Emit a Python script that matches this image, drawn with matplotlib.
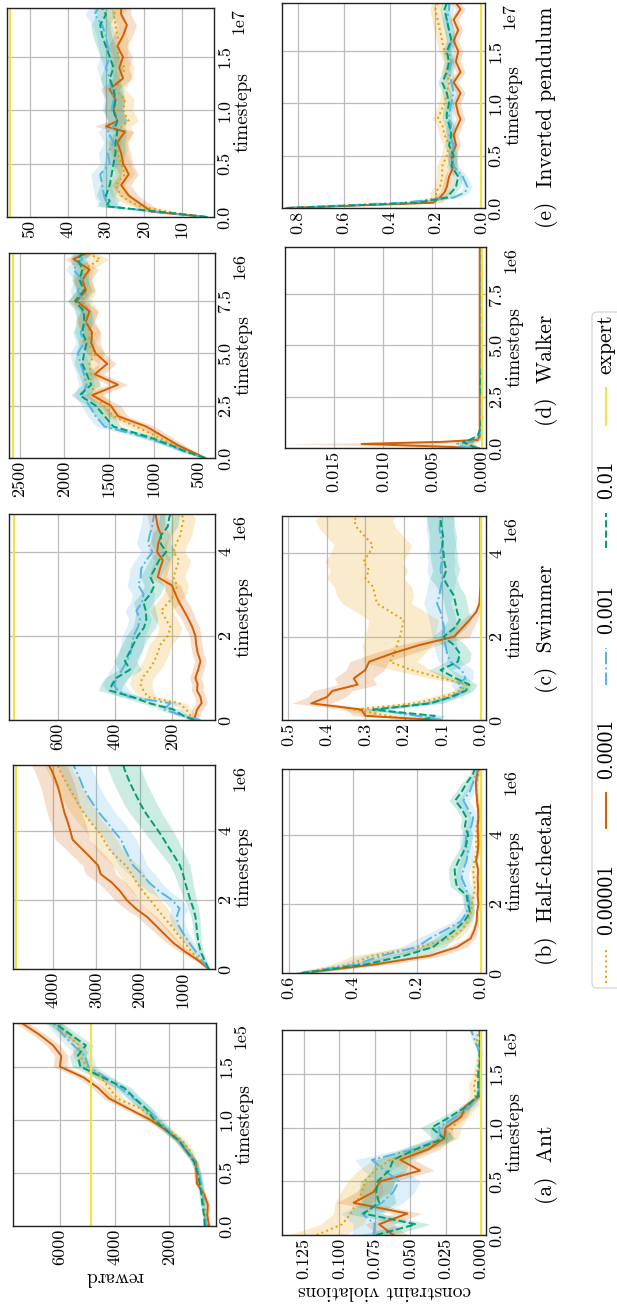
import numpy as np
import matplotlib.pyplot as plt
from matplotlib.lines import Line2D
from matplotlib.patches import FancyBboxPatch
from matplotlib.transforms import offset_copy

plt.rcParams['font.family'] = 'cmr10'
plt.rcParams['mathtext.fontset'] = 'cm'
plt.rcParams['axes.formatter.use_mathtext'] = True
plt.rcParams['font.size'] = 13

# legend / series
series_labels = ['0.00001', '0.0001', '0.001', '0.01']
series_colors = ['#E69F00', '#D55E00', '#56B4E9', '#009E73']
series_styles = [':', '-', '-.', '--']
expert_color = '#F0E442'

# ===== Ant (timesteps in 1e5) =====
ant_t = [0, 0.1, 0.2, 0.3, 0.4, 0.5, 0.6, 0.7, 0.8, 0.9, 1.0, 1.1, 1.2, 1.3, 1.4, 1.5, 1.6, 1.7, 1.8, 1.91]
ant_rw_e5 = [600, 650, 700, 780, 850, 950, 1100, 1200, 1500, 2000, 2500, 3000, 3900, 4200, 4500, 5000, 5270, 5300, 5760, 6150]
ant_rw_e4 = [536, 600, 580, 720, 980, 1000, 1010, 1350, 1650, 2100, 2700, 3450, 4200, 4600, 5150, 6000, 5950, 6250, 6750, 7400]
ant_rw_e3 = [634, 700, 730, 760, 830, 900, 1060, 1300, 1650, 2050, 2400, 2800, 3300, 3800, 4350, 4950, 5090, 5500, 5880, 6250]
ant_rw_e2 = [695, 720, 780, 820, 880, 950, 1080, 1350, 1620, 2100, 2550, 2830, 3250, 3650, 4450, 5250, 5350, 5050, 5600, 6200]
ant_rw_e5_sd = [60, 60, 70, 80, 90, 100, 110, 120, 150, 180, 200, 220, 250, 250, 250, 250, 250, 250, 250, 250]
ant_rw_e4_sd = [50, 60, 70, 80, 90, 100, 100, 120, 140, 160, 180, 200, 220, 220, 230, 250, 250, 250, 250, 250]
ant_rw_e3_sd = [60, 70, 80, 90, 100, 100, 110, 130, 150, 170, 200, 220, 240, 260, 280, 280, 280, 280, 280, 280]
ant_rw_e2_sd = [60, 70, 80, 90, 100, 100, 110, 130, 150, 170, 200, 230, 250, 270, 300, 300, 300, 280, 280, 280]
ant_cv_e5 = [0.116, 0.098, 0.092, 0.088, 0.084, 0.082, 0.075, 0.064, 0.043, 0.024, 0.020, 0.015, 0.007, 0.004, 0.005, 0.003, 0.002, 0.001, 0.003, 0.002]
ant_cv_e4 = [0.062, 0.072, 0.052, 0.090, 0.076, 0.071, 0.043, 0.057, 0.037, 0.026, 0.025, 0.014, 0.011, 0.0005, 0.0005, 0.0005, 0.0005, 0.0005, 0.0005, 0.0005]
ant_cv_e3 = [0.076, 0.075, 0.084, 0.070, 0.062, 0.058, 0.068, 0.077, 0.047, 0.028, 0.030, 0.018, 0.008, 0.002, 0.001, 0.001, 0.001, 0.001, 0.004, 0.007]
ant_cv_e2 = [0.074, 0.046, 0.083, 0.072, 0.074, 0.073, 0.065, 0.062, 0.046, 0.026, 0.035, 0.022, 0.010, 0.002, 0.002, 0.002, 0.001, 0.001, 0.001, 0.001]
ant_cv_e5_sd = [0.02, 0.015, 0.012, 0.015, 0.015, 0.012, 0.012, 0.012, 0.01, 0.008, 0.006, 0.006, 0.005, 0.004, 0.004, 0.003, 0.002, 0.002, 0.002, 0.002]
ant_cv_e4_sd = [0.01, 0.01, 0.01, 0.012, 0.012, 0.01, 0.01, 0.01, 0.008, 0.006, 0.005, 0.004, 0.004, 0.001, 0.001, 0.001, 0.001, 0.001, 0.001, 0.001]
ant_cv_e3_sd = [0.015, 0.015, 0.015, 0.015, 0.015, 0.015, 0.015, 0.012, 0.01, 0.008, 0.006, 0.005, 0.004, 0.002, 0.001, 0.001, 0.001, 0.001, 0.002, 0.002]
ant_cv_e2_sd = [0.012, 0.01, 0.012, 0.012, 0.012, 0.012, 0.012, 0.012, 0.01, 0.008, 0.008, 0.006, 0.004, 0.002, 0.001, 0.001, 0.001, 0.001, 0.001, 0.001]

# ===== Half-cheetah (timesteps in 1e6) =====
hc_t = [0, 0.25, 0.5, 0.75, 1.0, 1.25, 1.5, 1.75, 2.0, 2.25, 2.5, 2.75, 3.0, 3.25, 3.5, 3.75, 4.0, 4.25, 4.5, 4.75, 5.0, 5.25, 5.5, 5.75, 5.91]
hc_rw_e5 = [405, 620, 800, 960, 1120, 1270, 1440, 1600, 1760, 1920, 2070, 2180, 2320, 2540, 2720, 2830, 2960, 3130, 3280, 3400, 3510, 3630, 3740, 3840, 3900]
hc_rw_e4 = [405, 650, 950, 1216, 1420, 1620, 1820, 2090, 2300, 2450, 2640, 2900, 2960, 3150, 3350, 3550, 3600, 3660, 3730, 3780, 3830, 3880, 3950, 4030, 4100]
hc_rw_e3 = [405, 560, 700, 850, 980, 1100, 1150, 1080, 1250, 1550, 1780, 1950, 2150, 2250, 2350, 2430, 2600, 2750, 2920, 3060, 3190, 3300, 3380, 3470, 3530]
hc_rw_e2 = [405, 500, 590, 640, 670, 690, 710, 760, 830, 890, 950, 1000, 1070, 1190, 1320, 1440, 1570, 1710, 1850, 1970, 2070, 2170, 2260, 2340, 2380]
hc_rw_e5_sd = [30, 80, 120, 150, 180, 200, 220, 250, 250, 270, 280, 300, 300, 300, 300, 300, 300, 300, 300, 300, 300, 300, 300, 300, 300]
hc_rw_e4_sd = [30, 80, 120, 150, 180, 200, 220, 250, 280, 300, 320, 350, 350, 380, 380, 400, 400, 400, 400, 400, 400, 400, 400, 400, 400]
hc_rw_e3_sd = [30, 60, 90, 110, 130, 150, 170, 200, 220, 250, 280, 300, 320, 340, 350, 360, 370, 380, 380, 380, 380, 380, 380, 380, 380]
hc_rw_e2_sd = [30, 50, 60, 70, 80, 90, 100, 120, 140, 160, 180, 200, 230, 260, 290, 320, 340, 360, 370, 380, 380, 380, 380, 380, 380]
hc_cv_e5 = [0.56, 0.41, 0.34, 0.19, 0.097, 0.06, 0.04, 0.032, 0.029, 0.022, 0.019, 0.022, 0.024, 0.02, 0.013, 0.015, 0.014, 0.013, 0.008, 0.01, 0.012, 0.014, 0.013, 0.008, 0.005]
hc_cv_e4 = [0.56, 0.33, 0.16, 0.075, 0.032, 0.02, 0.013, 0.012, 0.008, 0.010, 0.009, 0.010, 0.009, 0.015, 0.010, 0.008, 0.009, 0.010, 0.008, 0.009, 0.012, 0.014, 0.016, 0.012, 0.009]
hc_cv_e3 = [0.56, 0.39, 0.31, 0.2, 0.16, 0.11, 0.062, 0.045, 0.036, 0.04, 0.048, 0.06, 0.055, 0.045, 0.04, 0.048, 0.045, 0.03, 0.024, 0.04, 0.055, 0.035, 0.025, 0.015, 0.012]
hc_cv_e2 = [0.56, 0.36, 0.24, 0.15, 0.115, 0.08, 0.052, 0.034, 0.04, 0.045, 0.075, 0.08, 0.082, 0.07, 0.055, 0.045, 0.04, 0.05, 0.045, 0.06, 0.08, 0.06, 0.045, 0.025, 0.02]
hc_cv_e5_sd = [0.03, 0.06, 0.06, 0.05, 0.03, 0.02, 0.015, 0.01, 0.01, 0.008, 0.008, 0.008, 0.008, 0.008, 0.006, 0.006, 0.006, 0.006, 0.005, 0.005, 0.005, 0.005, 0.005, 0.004, 0.004]
hc_cv_e4_sd = [0.03, 0.05, 0.04, 0.03, 0.015, 0.01, 0.006, 0.005, 0.004, 0.004, 0.004, 0.004, 0.004, 0.004, 0.004, 0.004, 0.004, 0.004, 0.004, 0.004, 0.004, 0.004, 0.004, 0.004, 0.004]
hc_cv_e3_sd = [0.03, 0.06, 0.06, 0.05, 0.04, 0.03, 0.025, 0.02, 0.015, 0.015, 0.02, 0.02, 0.02, 0.02, 0.02, 0.02, 0.02, 0.015, 0.015, 0.02, 0.02, 0.015, 0.012, 0.01, 0.008]
hc_cv_e2_sd = [0.03, 0.05, 0.05, 0.04, 0.03, 0.025, 0.02, 0.015, 0.015, 0.015, 0.02, 0.02, 0.02, 0.02, 0.018, 0.015, 0.015, 0.015, 0.015, 0.018, 0.02, 0.018, 0.015, 0.01, 0.01]

# ===== Swimmer (timesteps in 1e6) =====
sw_t = [0, 0.1, 0.25, 0.4, 0.55, 0.7, 0.85, 1.0, 1.2, 1.4, 1.6, 1.8, 2.0, 2.2, 2.4, 2.6, 2.8, 3.0, 3.2, 3.4, 3.6, 3.8, 4.0, 4.2, 4.4, 4.6, 4.8, 4.9]
sw_rw_e5 = [124, 135, 150, 175, 285, 300, 310, 305, 280, 262, 250, 240, 215, 205, 222, 238, 212, 190, 182, 195, 185, 175, 195, 185, 170, 165, 158, 170]
sw_rw_e4 = [124, 118, 112, 96, 100, 112, 110, 118, 108, 100, 110, 115, 118, 128, 142, 158, 175, 188, 200, 250, 242, 232, 252, 248, 238, 250, 255, 258]
sw_rw_e3 = [100, 160, 230, 205, 350, 390, 405, 392, 375, 358, 345, 340, 335, 320, 312, 325, 305, 300, 318, 310, 308, 290, 268, 285, 278, 270, 265, 262]
sw_rw_e2 = [124, 160, 195, 280, 340, 418, 410, 395, 347, 365, 350, 335, 320, 298, 290, 292, 300, 275, 262, 276, 260, 245, 220, 240, 238, 215, 210, 206]
sw_rw_e5_sd = [10, 15, 20, 25, 30, 35, 40, 40, 40, 40, 40, 40, 40, 40, 40, 40, 40, 40, 40, 40, 40, 40, 40, 40, 40, 40, 40, 40]
sw_rw_e4_sd = [10, 15, 20, 20, 20, 20, 20, 20, 20, 20, 20, 20, 20, 25, 25, 30, 30, 30, 30, 30, 30, 30, 30, 30, 30, 30, 30, 30]
sw_rw_e3_sd = [10, 20, 25, 30, 35, 40, 40, 40, 40, 40, 40, 40, 40, 40, 40, 40, 40, 40, 40, 40, 40, 40, 40, 40, 40, 40, 40, 40]
sw_rw_e2_sd = [10, 20, 25, 30, 35, 40, 40, 40, 40, 40, 40, 40, 40, 40, 40, 35, 35, 35, 35, 35, 35, 35, 35, 35, 35, 35, 35, 35]
sw_cv_e5 = [0.18, 0.24, 0.33, 0.17, 0.10, 0.055, 0.036, 0.10, 0.18, 0.236, 0.225, 0.218, 0.21, 0.205, 0.20, 0.235, 0.27, 0.275, 0.28, 0.30, 0.29, 0.305, 0.29, 0.28, 0.30, 0.32, 0.33, 0.318]
sw_cv_e4 = [0.11, 0.30, 0.31, 0.44, 0.40, 0.385, 0.32, 0.33, 0.30, 0.29, 0.23, 0.16, 0.07, 0.05, 0.03, 0.012, 0.004, 0.003, 0.002, 0.002, 0.002, 0.002, 0.002, 0.002, 0.002, 0.002, 0.002, 0.002]
sw_cv_e3 = [0.10, 0.166, 0.27, 0.14, 0.07, 0.045, 0.06, 0.04, 0.05, 0.08, 0.088, 0.092, 0.097, 0.095, 0.10, 0.105, 0.114, 0.108, 0.104, 0.10, 0.105, 0.102, 0.106, 0.10, 0.104, 0.108, 0.105, 0.106]
sw_cv_e2 = [0.15, 0.12, 0.28, 0.13, 0.08, 0.04, 0.03, 0.065, 0.105, 0.06, 0.055, 0.07, 0.097, 0.07, 0.055, 0.062, 0.066, 0.071, 0.085, 0.097, 0.09, 0.095, 0.097, 0.10, 0.098, 0.102, 0.105, 0.106]
sw_cv_e5_sd = [0.03, 0.04, 0.04, 0.04, 0.03, 0.02, 0.015, 0.03, 0.05, 0.07, 0.08, 0.09, 0.09, 0.09, 0.09, 0.09, 0.09, 0.1, 0.1, 0.1, 0.1, 0.1, 0.1, 0.1, 0.1, 0.1, 0.1, 0.1]
sw_cv_e4_sd = [0.02, 0.03, 0.04, 0.05, 0.05, 0.05, 0.05, 0.05, 0.05, 0.05, 0.05, 0.05, 0.04, 0.03, 0.02, 0.01, 0.003, 0.002, 0.002, 0.002, 0.002, 0.002, 0.002, 0.002, 0.002, 0.002, 0.002, 0.002]
sw_cv_e3_sd = [0.03, 0.03, 0.03, 0.03, 0.02, 0.02, 0.02, 0.02, 0.03, 0.03, 0.03, 0.03, 0.03, 0.035, 0.035, 0.035, 0.035, 0.035, 0.035, 0.035, 0.035, 0.035, 0.035, 0.035, 0.035, 0.035, 0.035, 0.035]
sw_cv_e2_sd = [0.03, 0.03, 0.03, 0.03, 0.02, 0.02, 0.02, 0.03, 0.03, 0.03, 0.03, 0.03, 0.03, 0.03, 0.03, 0.03, 0.03, 0.03, 0.03, 0.035, 0.035, 0.035, 0.035, 0.035, 0.035, 0.035, 0.035, 0.035]

# ===== Walker (timesteps in 1e6) =====
wk_t = [0, 0.1, 0.2, 0.3, 0.4, 0.6, 1.0, 1.5, 2.0, 2.5, 3.0, 3.5, 4.0, 4.5, 5.0, 5.5, 6.0, 6.5, 7.0, 7.5, 8.0, 8.5, 9.0, 9.5, 9.79]
wk_rw_e5 = [420, 480, 540, 600, 650, 760, 950, 1200, 1450, 1560, 1650, 1700, 1700, 1720, 1650, 1750, 1700, 1780, 1720, 1800, 1750, 1800, 1780, 1600, 1750]
wk_rw_e4 = [420, 470, 520, 570, 620, 720, 880, 1080, 1400, 1480, 1690, 1400, 1660, 1520, 1650, 1700, 1690, 1760, 1720, 1860, 1760, 1800, 1720, 1900, 1750]
wk_rw_e3 = [420, 500, 580, 650, 700, 820, 1100, 1550, 1650, 1720, 1800, 1750, 1780, 1820, 1850, 1780, 1820, 1750, 1800, 1800, 1850, 1800, 1900, 1800, 1850]
wk_rw_e2 = [420, 490, 560, 630, 690, 800, 1050, 1450, 1550, 1650, 1830, 1700, 1750, 1800, 1780, 1750, 1800, 1780, 1780, 1880, 1780, 1830, 1800, 1850, 1800]
wk_rw_e5_sd = [20, 30, 40, 50, 60, 70, 80, 90, 100, 100, 100, 100, 100, 100, 100, 100, 100, 100, 100, 100, 100, 100, 100, 100, 100]
wk_rw_e4_sd = [20, 30, 40, 50, 60, 70, 80, 100, 110, 110, 110, 110, 100, 100, 100, 100, 100, 100, 100, 100, 100, 100, 100, 100, 100]
wk_rw_e3_sd = [20, 30, 40, 50, 60, 70, 80, 90, 90, 90, 90, 90, 90, 90, 90, 90, 90, 90, 90, 90, 90, 90, 90, 90, 90]
wk_rw_e2_sd = [20, 30, 40, 50, 60, 70, 80, 90, 100, 100, 100, 100, 90, 90, 90, 90, 90, 90, 90, 90, 90, 90, 90, 90, 90]
wk_cv_e5 = [0.0005, 0.001, 0.0015, 0.0008, 0.0003, 0.0001, 0, 0, 0, 0, 0, 0, 0, 0, 0, 0, 0, 0, 0, 0, 0, 0, 0, 0, 0]
wk_cv_e4 = [0.0003, 0.006, 0.0122, 0.004, 0.0004, 0.0002, 0.0002, 0.0002, 0.0002, 0.0002, 0.0002, 0.0002, 0.0002, 0.0002, 0.0002, 0.0002, 0.0002, 0.0002, 0.0002, 0.0002, 0.0002, 0.0002, 0.0002, 0.0002, 0.0002]
wk_cv_e3 = [0.001, 0.0022, 0.0025, 0.001, 0.0005, 0.0002, 0, 0, 0, 0, 0, 0, 0, 0, 0, 0, 0, 0, 0, 0, 0, 0, 0, 0, 0]
wk_cv_e2 = [0.0005, 0.001, 0.0015, 0.0019, 0.0012, 0.0004, 0.0001, 0, 0, 0, 0.0002, 0.0001, 0, 0, 0, 0, 0, 0, 0, 0, 0, 0, 0, 0, 0]
wk_cv_e5_sd = [0.0003, 0.0006, 0.0008, 0.0005, 0.0002, 0.0001, 0, 0, 0, 0, 0, 0, 0, 0, 0, 0, 0, 0, 0, 0, 0, 0, 0, 0, 0]
wk_cv_e4_sd = [0.0002, 0.004, 0.0075, 0.003, 0.0003, 0.0001, 0.0001, 0.0001, 0.0001, 0.0001, 0.0001, 0.0001, 0.0001, 0.0001, 0.0001, 0.0001, 0.0001, 0.0001, 0.0001, 0.0001, 0.0001, 0.0001, 0.0001, 0.0001, 0.0001]
wk_cv_e3_sd = [0.0005, 0.001, 0.001, 0.0006, 0.0003, 0.0001, 0, 0, 0, 0, 0, 0, 0, 0, 0, 0, 0, 0, 0, 0, 0, 0, 0, 0, 0]
wk_cv_e2_sd = [0.0003, 0.0006, 0.0008, 0.0008, 0.0006, 0.0002, 0.0001, 0, 0, 0, 0.0001, 0, 0, 0, 0, 0, 0, 0, 0, 0, 0, 0, 0, 0, 0]

# ===== Inverted pendulum (timesteps in 1e7) =====
ip_t = [0, 0.05, 0.1, 0.15, 0.2, 0.3, 0.4, 0.5, 0.6, 0.7, 0.8, 0.85, 0.9, 1.0, 1.1, 1.2, 1.3, 1.4, 1.5, 1.6, 1.7, 1.8, 1.9, 1.96]
ip_rw_e5 = [3.5, 14, 21, 24, 26, 27.5, 25, 26, 27, 26.5, 25.5, 26, 24, 25.5, 25, 27.5, 26, 25, 27, 26.5, 27, 27.5, 28, 27]
ip_rw_e4 = [3.5, 18, 20, 22, 24, 26, 24, 25.5, 26, 27, 25, 30, 27, 28, 27.5, 29, 25.5, 26.5, 25.5, 27, 25.5, 24.5, 26, 26]
ip_rw_e3 = [3.5, 17, 29, 30, 30.5, 31, 31.5, 29, 29.5, 28, 29.5, 28, 27, 28.5, 28, 28.5, 29, 30, 29, 29.5, 30, 31, 33, 32]
ip_rw_e2 = [3.5, 16, 30, 29, 30, 29, 28.5, 28, 27.5, 27.5, 27, 27.5, 27, 28, 27.5, 28, 29, 28, 29, 30, 31, 31.5, 30, 31]
ip_rw_e5_sd = [0.5, 2.5, 2.5, 2.5, 2.5, 2.5, 2.5, 2.5, 2.5, 2.5, 2.5, 2.5, 2.5, 2.5, 2.5, 2.5, 2.5, 2.5, 2.5, 2.5, 2.5, 2.5, 2.5, 2.5]
ip_rw_e4_sd = [0.5, 2.5, 2.5, 2.5, 2.5, 2.5, 2.5, 2.5, 2.5, 2.5, 2.5, 3.0, 2.5, 2.5, 2.5, 2.5, 2.5, 2.5, 2.5, 2.5, 2.5, 2.5, 2.5, 2.5]
ip_rw_e3_sd = [0.5, 2.5, 2.5, 2.5, 2.5, 2.5, 2.5, 2.5, 2.5, 2.5, 2.5, 2.5, 2.5, 2.5, 2.5, 2.5, 2.5, 2.5, 2.5, 2.5, 2.5, 2.5, 2.5, 2.5]
ip_rw_e2_sd = [0.5, 2.5, 2.5, 2.5, 2.5, 2.5, 2.5, 2.5, 2.5, 2.5, 2.5, 2.5, 2.5, 2.5, 2.5, 2.5, 2.5, 2.5, 2.5, 2.5, 2.5, 2.5, 2.5, 2.5]
ip_cv_e5 = [0.85, 0.30, 0.19, 0.20, 0.18, 0.17, 0.17, 0.15, 0.14, 0.16, 0.17, 0.19, 0.18, 0.16, 0.15, 0.14, 0.15, 0.14, 0.16, 0.17, 0.18, 0.19, 0.20, 0.19]
ip_cv_e4 = [0.85, 0.21, 0.18, 0.16, 0.15, 0.14, 0.12, 0.13, 0.11, 0.12, 0.10, 0.09, 0.10, 0.11, 0.09, 0.12, 0.09, 0.11, 0.10, 0.12, 0.10, 0.12, 0.09, 0.11]
ip_cv_e3 = [0.85, 0.35, 0.12, 0.07, 0.06, 0.08, 0.12, 0.13, 0.12, 0.14, 0.13, 0.14, 0.14, 0.13, 0.12, 0.13, 0.14, 0.13, 0.14, 0.13, 0.14, 0.15, 0.14, 0.14]
ip_cv_e2 = [0.85, 0.28, 0.15, 0.13, 0.11, 0.10, 0.13, 0.12, 0.14, 0.13, 0.14, 0.15, 0.15, 0.14, 0.15, 0.17, 0.15, 0.14, 0.15, 0.13, 0.14, 0.15, 0.16, 0.15]
ip_cv_e5_sd = [0.01, 0.05, 0.03, 0.025, 0.025, 0.025, 0.025, 0.025, 0.025, 0.025, 0.025, 0.025, 0.025, 0.025, 0.025, 0.025, 0.025, 0.025, 0.025, 0.025, 0.025, 0.025, 0.025, 0.025]
ip_cv_e4_sd = [0.01, 0.04, 0.03, 0.02, 0.02, 0.02, 0.02, 0.02, 0.02, 0.02, 0.02, 0.02, 0.02, 0.02, 0.02, 0.02, 0.02, 0.02, 0.02, 0.02, 0.02, 0.02, 0.02, 0.02]
ip_cv_e3_sd = [0.01, 0.05, 0.03, 0.02, 0.02, 0.02, 0.02, 0.02, 0.02, 0.02, 0.02, 0.02, 0.02, 0.02, 0.02, 0.02, 0.02, 0.02, 0.02, 0.02, 0.02, 0.02, 0.02, 0.02]
ip_cv_e2_sd = [0.01, 0.05, 0.03, 0.02, 0.02, 0.02, 0.02, 0.02, 0.02, 0.02, 0.02, 0.02, 0.02, 0.02, 0.02, 0.02, 0.02, 0.02, 0.02, 0.02, 0.02, 0.02, 0.02, 0.02]

# expert reward per env, constraint expert is zero
expert_reward = {'a': 4867, 'b': 4865, 'c': 756, 'd': 2580, 'e': 55.1}

# axis ticks
ant_rw_ticks = [2000, 4000, 6000]
hc_rw_ticks = [1000, 2000, 3000, 4000]
sw_rw_ticks = [200, 400, 600]
wk_rw_ticks = [500, 1000, 1500, 2000, 2500]
ip_rw_ticks = [10, 20, 30, 40, 50]
ant_cv_ticks = [0.0, 0.025, 0.05, 0.075, 0.1, 0.125]
hc_cv_ticks = [0.0, 0.2, 0.4, 0.6]
sw_cv_ticks = [0.0, 0.1, 0.2, 0.3, 0.4, 0.5]
wk_cv_ticks = [0.0, 0.005, 0.01, 0.015]
ip_cv_ticks = [0.0, 0.2, 0.4, 0.6, 0.8]
t_ticks_half = [0, 0.5, 1.0, 1.5]
t_labels_half = ['0.0', '0.5', '1.0', '1.5']
t_ticks_two = [0, 2, 4]
t_labels_two = ['0', '2', '4']
t_ticks_wk = [0, 2.5, 5.0, 7.5]
t_labels_wk = ['0.0', '2.5', '5.0', '7.5']

W, H = 617, 1308
fig = plt.figure(figsize=(W / 100, H / 100), dpi=100)


def add_ax(x0, x1, ytop, ybot):
    return fig.add_axes([x0 / W, 1 - ybot / H, (x1 - x0) / W, (ybot - ytop) / H])


def draw(ax, t, scale, offset, means, sds, expert, lim, ticks, fmt, tticks, tlabels):
    ts = np.array(t) * scale
    for m, s, c, ls in zip(means, sds, series_colors, series_styles):
        m = np.array(m, float)
        s = np.array(s, float)
        ax.fill_betweenx(ts, m - s, m + s, color=c, alpha=0.2, lw=0)
        ax.plot(m, ts, color=c, ls=ls, lw=1.4)
    ax.axvline(expert, color=expert_color, lw=1.5)
    ax.set_xlim(lim[1], lim[0])
    ax.set_ylim(0, ts[-1])
    ax.set_xticks(ticks)
    ax.set_xticklabels([fmt % v for v in ticks])
    ax.yaxis.tick_right()
    ax.yaxis.set_label_position('right')
    ax.set_yticks(np.array(tticks) * scale)
    ax.set_yticklabels(tlabels)
    ax.set_ylabel('timesteps', fontsize=14, labelpad=1)
    ax.tick_params(length=0, pad=2, labelsize=13)
    ax.tick_params(axis='x', labelrotation=90)
    ax.tick_params(axis='y', labelrotation=90)
    for lbl in ax.get_yticklabels():
        lbl.set_va('center')
    ax.grid(True, color='#bcbcbc', lw=0.9)
    ax.set_axisbelow(True)
    for sp in ax.spines.values():
        sp.set_color('#222222')
        sp.set_linewidth(1.0)
    tr = offset_copy(ax.transAxes, fig=fig, x=25, y=0, units='dots')
    ax.text(1.0, 1.0, offset, transform=tr, rotation=90, ha='center', va='top', fontsize=13)


# ----- reward panels (left) and constraint panels (right) -----
ax = add_ax(13, 216, 1023, 1226)
draw(ax, ant_t, 1e5, '1e5', [ant_rw_e5, ant_rw_e4, ant_rw_e3, ant_rw_e2],
     [ant_rw_e5_sd, ant_rw_e4_sd, ant_rw_e3_sd, ant_rw_e2_sd], expert_reward['a'],
     (282, 7718), ant_rw_ticks, '%d', t_ticks_half, t_labels_half)
ax.set_xlabel('reward', rotation=180, fontsize=14, labelpad=2)
ax = add_ax(282, 486, 1030, 1235)
draw(ax, ant_t, 1e5, '1e5', [ant_cv_e5, ant_cv_e4, ant_cv_e3, ant_cv_e2],
     [ant_cv_e5_sd, ant_cv_e4_sd, ant_cv_e3_sd, ant_cv_e2_sd], 0,
     (-0.0035, 0.1405), ant_cv_ticks, '%.3f', t_ticks_half, t_labels_half)
ax.set_xlabel('constraint violations', rotation=180, fontsize=14, labelpad=2)

ax = add_ax(13, 215, 765, 969)
draw(ax, hc_t, 1e6, '1e6', [hc_rw_e5, hc_rw_e4, hc_rw_e3, hc_rw_e2],
     [hc_rw_e5_sd, hc_rw_e4_sd, hc_rw_e3_sd, hc_rw_e2_sd], expert_reward['b'],
     (261, 4924), hc_rw_ticks, '%d', t_ticks_two, t_labels_two)
ax = add_ax(282, 486, 769, 973)
draw(ax, hc_t, 1e6, '1e6', [hc_cv_e5, hc_cv_e4, hc_cv_e3, hc_cv_e2],
     [hc_cv_e5_sd, hc_cv_e4_sd, hc_cv_e3_sd, hc_cv_e2_sd], 0,
     (-0.016, 0.622), hc_cv_ticks, '%.1f', t_ticks_two, t_labels_two)

ax = add_ax(9, 215, 514, 720)
draw(ax, sw_t, 1e6, '1e6', [sw_rw_e5, sw_rw_e4, sw_rw_e3, sw_rw_e2],
     [sw_rw_e5_sd, sw_rw_e4_sd, sw_rw_e3_sd, sw_rw_e2_sd], expert_reward['c'],
     (49, 772), sw_rw_ticks, '%d', t_ticks_two, t_labels_two)
ax = add_ax(282, 486, 516, 720)
draw(ax, sw_t, 1e6, '1e6', [sw_cv_e5, sw_cv_e4, sw_cv_e3, sw_cv_e2],
     [sw_cv_e5_sd, sw_cv_e4_sd, sw_cv_e3_sd, sw_cv_e2_sd], 0,
     (-0.013, 0.516), sw_cv_ticks, '%.1f', t_ticks_two, t_labels_two)

ax = add_ax(9, 215, 253, 458)
draw(ax, wk_t, 1e6, '1e6', [wk_rw_e5, wk_rw_e4, wk_rw_e3, wk_rw_e2],
     [wk_rw_e5_sd, wk_rw_e4_sd, wk_rw_e3_sd, wk_rw_e2_sd], expert_reward['d'],
     (310, 2623), wk_rw_ticks, '%d', t_ticks_wk, t_labels_wk)
ax = add_ax(285, 486, 247, 448)
draw(ax, wk_t, 1e6, '1e6', [wk_cv_e5, wk_cv_e4, wk_cv_e3, wk_cv_e2],
     [wk_cv_e5_sd, wk_cv_e4_sd, wk_cv_e3_sd, wk_cv_e2_sd], 0,
     (-0.00044, 0.01998), wk_cv_ticks, '%.3f', t_ticks_wk, t_labels_wk)

ax = add_ax(7, 214, 8, 217)
draw(ax, ip_t, 1e7, '1e7', [ip_rw_e5, ip_rw_e4, ip_rw_e3, ip_rw_e2],
     [ip_rw_e5_sd, ip_rw_e4_sd, ip_rw_e3_sd, ip_rw_e2_sd], expert_reward['e'],
     (1.6, 56), ip_rw_ticks, '%d', t_ticks_half, t_labels_half)
ax = add_ax(282, 485, 3, 208)
draw(ax, ip_t, 1e7, '1e7', [ip_cv_e5, ip_cv_e4, ip_cv_e3, ip_cv_e2],
     [ip_cv_e5_sd, ip_cv_e4_sd, ip_cv_e3_sd, ip_cv_e2_sd], 0,
     (-0.017, 0.87), ip_cv_ticks, '%.1f', t_ticks_half, t_labels_half)

# ----- sub captions -----
captions = ['(a)  Ant', '(b)  Half-cheetah', '(c)  Swimmer', '(d)  Walker', '(e)  Inverted pendulum']
caption_y = [1165, 884, 629, 370, 117]
for cap, yc in zip(captions, caption_y):
    fig.text(547 / W, 1 - yc / H, cap, rotation=90, ha='center', va='center', fontsize=15.5)

# ----- legend (drawn rotated, like the rest of the figure) -----
fig.add_artist(FancyBboxPatch((5.92, 3.20), 0.45, 6.76, boxstyle='round,pad=0,rounding_size=0.05',
                              transform=fig.dpi_scale_trans, fc='white', ec='#d0d0d0', lw=0.8))
leg_labels = series_labels + ['expert']
leg_colors = series_colors + [expert_color]
leg_styles = series_styles + ['-']
leg_handle = [(949, 983), (793, 828), (648, 685), (513, 548), (388, 425)]
for lab, c, ls, (h0, h1) in zip(leg_labels, leg_colors, leg_styles, leg_handle):
    fig.add_artist(Line2D([6.06, 6.06], [(H - h1) / 100, (H - h0) / 100], color=c, ls=ls, lw=1.4,
                          transform=fig.dpi_scale_trans))
    fig.text(6.06, (H - h0 + 14) / 100, lab, rotation=90, ha='center', va='bottom', fontsize=15.5,
             transform=fig.dpi_scale_trans)

fig.savefig('out.png', dpi=100)
